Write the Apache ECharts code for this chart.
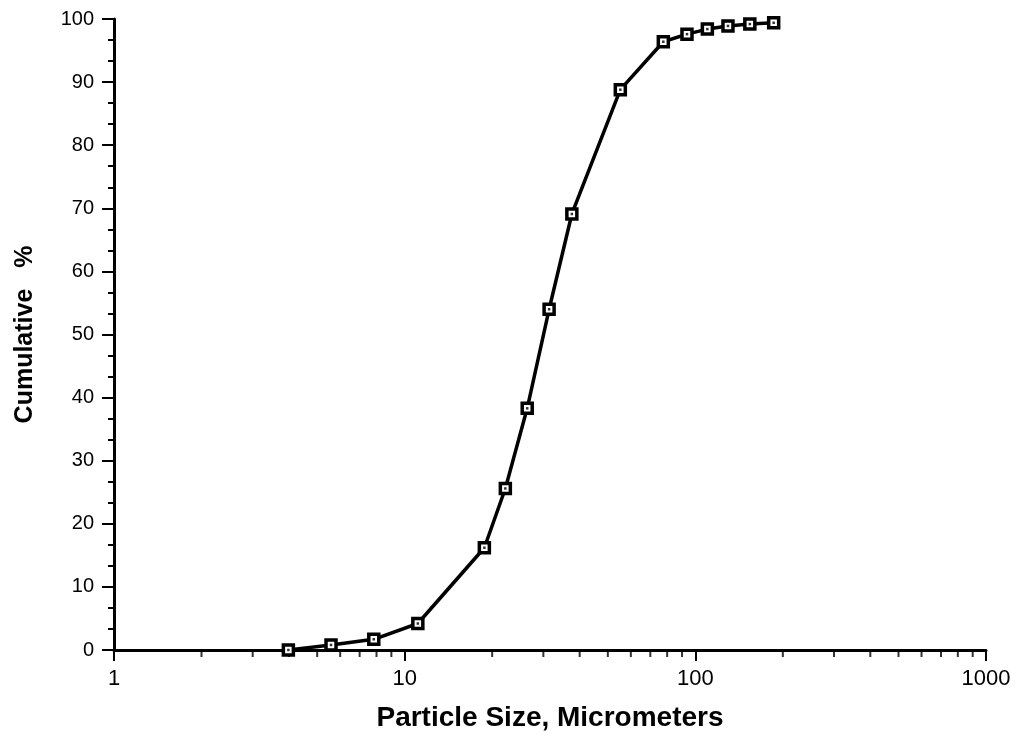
<!DOCTYPE html>
<html>
<head>
<meta charset="utf-8">
<script src="https://cdn.jsdelivr.net/npm/echarts@6/dist/echarts.min.js"></script>
<style>
    html, body { margin: 0; padding: 0; background: #fff; }
    #chart { width: 1018px; height: 741px; }
</style>
</head>
<body>
<div id="chart"></div>
<script>
// particle size (micrometers) vs cumulative %
var sizes = [3.98, 5.58, 7.83, 11.1, 18.8, 22.2, 26.4, 31.4, 37.6, 55.2, 77.6, 93.6, 110, 129.5, 154, 186];
var cumulative = [0, 0.8, 1.7, 4.2, 16.2, 25.6, 38.3, 54.0, 69.1, 88.8, 96.4, 97.6, 98.4, 98.9, 99.2, 99.4];
var xTickLabels = ['1', '10', '100', '1000'];
var yTickLabels = ['0', '10', '20', '30', '40', '50', '60', '70', '80', '90', '100'];

// log minor ticks 2..9 in each decade
var minorX = [];
[1, 10, 100].forEach(function (d) {
    for (var k = 2; k <= 9; k++) {
        minorX.push([d * k, 0]);
    }
});

var points = sizes.map(function (v, i) {
    return [v, cumulative[i]];
});

var font = '"Liberation Sans", Arial, Helvetica, sans-serif';
var chart = echarts.init(document.getElementById('chart'));

var option = {
    animation: false,
    backgroundColor: '#fff',
    grid: {
        left: 114,
        right: 32,
        top: 19,
        bottom: 91,
        containLabel: false
    },
    xAxis: {
        type: 'log',
        logBase: 10,
        min: 1,
        max: 1000,
        name: 'Particle Size, Micrometers',
        nameLocation: 'middle',
        nameGap: 54,
        nameTextStyle: {
            fontFamily: font,
            fontWeight: 'bold',
            fontSize: 28,
            color: '#000'
        },
        axisLine: {
            lineStyle: { color: '#000', width: 3 }
        },
        axisTick: {
            length: 11,
            lineStyle: { color: '#000', width: 2 }
        },
        axisLabel: {
            margin: 18,
            fontFamily: font,
            fontSize: 22,
            color: '#000',
            formatter: function (v) {
                var i = Math.round(Math.log(v) / Math.LN10);
                return xTickLabels[i];
            }
        },
        splitLine: { show: false }
    },
    yAxis: {
        type: 'value',
        min: 0,
        max: 100,
        interval: 10,
        name: 'Cumulative   %',
        nameLocation: 'middle',
        nameGap: 76,
        nameTextStyle: {
            fontFamily: font,
            fontWeight: 'bold',
            fontSize: 25,
            color: '#000'
        },
        axisLine: {
            show: true,
            lineStyle: { color: '#000', width: 3 }
        },
        axisTick: {
            length: 12,
            lineStyle: { color: '#000', width: 2 }
        },
        minorTick: {
            show: true,
            splitNumber: 3,
            length: 6,
            lineStyle: { color: '#000', width: 2 }
        },
        axisLabel: {
            margin: 20,
            fontFamily: font,
            fontSize: 20,
            color: '#000',
            formatter: function (v) {
                return yTickLabels[Math.round(v / 10)];
            }
        },
        splitLine: { show: false }
    },
    series: [{
        // minor log ticks below the x axis
        type: 'scatter',
        data: minorX,
        symbol: 'rect',
        symbolSize: [2, 6],
        symbolOffset: [0, 4],
        itemStyle: { color: '#000' },
        clip: false,
        silent: true,
        z: 1
    }, {
        type: 'line',
        data: points,
        symbol: 'rect',
        symbolSize: 10,
        showAllSymbol: true,
        lineStyle: { color: '#000', width: 3.5 },
        itemStyle: {
            color: '#fff',
            borderColor: '#000',
            borderWidth: 3.5
        },
        clip: false,
        z: 3
    }, {
        // dot in the middle of each marker
        type: 'scatter',
        data: points,
        symbol: 'rect',
        symbolSize: 2.5,
        itemStyle: { color: '#000' },
        clip: false,
        silent: true,
        z: 4
    }]
};
chart.setOption(option);
</script>
</body>
</html>
